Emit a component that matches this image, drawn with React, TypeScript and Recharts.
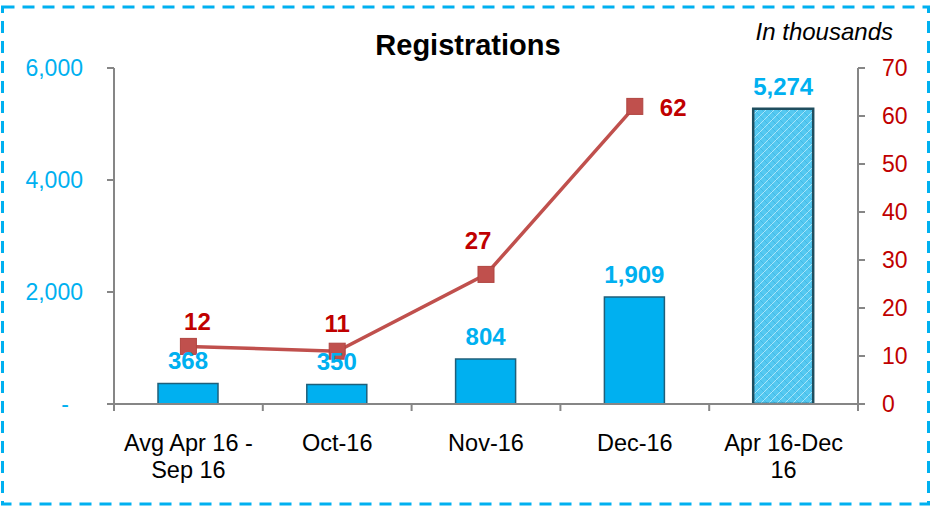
import React from 'react';
import { ComposedChart, Bar, Line, XAxis, YAxis, Cell, LabelList } from 'recharts';

const categories = ['Avg Apr 16 - Sep 16', 'Oct-16', 'Nov-16', 'Dec-16', 'Apr 16-Dec 16'];
const categoryLines = [['Avg Apr 16 -', 'Sep 16'], ['Oct-16'], ['Nov-16'], ['Dec-16'], ['Apr 16-Dec', '16']];
const registrations = [368, 350, 804, 1909, 5274];
const thousandsLine: (number | null)[] = [12, 11, 27, 62, null];
const leftTicks = [0, 2000, 4000, 6000];
const rightTicks = [0, 10, 20, 30, 40, 50, 60, 70];
const lineLabelOffsets = [[9, -25], [0, -28], [-8, -34], [25, 1]];

const FONT = 'Liberation Sans, Arial, sans-serif';
const BLUE = '#00B0F0';
const RED = '#C00000';
const LINE = '#C0504D';
const AXIS = '#868686';
const BAND = (858 - 114) / 5;

const data = categories.map((name, i) => ({ name, reg: registrations[i], line: thousandsLine[i], idx: i }));

const XTick = (props: any) => {
  const { x, y, payload, index } = props;
  const lines = categoryLines[index] || [payload.value];
  return (
    <g>
      <line x1={x - BAND / 2} x2={x - BAND / 2} y1={y} y2={y + 7} stroke={AXIS} strokeWidth={2} />
      {index === categories.length - 1 && (
        <line x1={x + BAND / 2} x2={x + BAND / 2} y1={y} y2={y + 7} stroke={AXIS} strokeWidth={2} />
      )}
      {lines.map((l: string, i: number) => (
        <text key={i} x={x} y={y + 47 + i * 27} textAnchor="middle" fill="#000" fontSize={23.5} fontFamily={FONT}>
          {l}
        </text>
      ))}
    </g>
  );
};

const LeftTick = (props: any) => {
  const { x, y, payload } = props;
  const v = payload.value;
  return (
    <text x={x} y={y} dx={v === 0 ? -14 : 0} textAnchor="end" dominantBaseline="central" fill={BLUE} fontSize={23} fontFamily={FONT}>
      {v === 0 ? '-' : v.toLocaleString('en-US')}
    </text>
  );
};

const RightTick = (props: any) => {
  const { x, y, payload } = props;
  return (
    <text x={x} y={y} textAnchor="start" dominantBaseline="central" fill={RED} fontSize={23} fontFamily={FONT}>
      {payload.value}
    </text>
  );
};

const SquareDot = (props: any) => {
  const { cx, cy, index } = props;
  if (cx == null || cy == null || isNaN(cy)) return <g key={`d${index}`} />;
  return <rect key={`d${index}`} x={cx - 8} y={cy - 8} width={16} height={16} fill={LINE} stroke="#B04440" strokeWidth={1} />;
};

const LineLabel = (props: any) => {
  const { x, y, value, index } = props;
  if (value == null || x == null || y == null) return null;
  const off = lineLabelOffsets[index] || [0, -25];
  return (
    <text x={x + off[0]} y={y + off[1]} textAnchor={index === 3 ? 'start' : 'middle'} dominantBaseline="central" fill={RED} fontSize={24} fontWeight="bold" fontFamily={FONT}>
      {value}
    </text>
  );
};

export default function App() {
  return (
    <div style={{ position: 'absolute', left: 0, top: 0, width: 931, height: 508, background: '#fff' }}>
      <svg width={931} height={508} style={{ position: 'absolute', left: 0, top: 0, pointerEvents: 'none', zIndex: 2 }}>
        <defs>
          <pattern id="hatch" width="8" height="8" patternUnits="userSpaceOnUse">
            <rect width="8" height="8" fill="#55C9F1" />
            <path d="M0,4 L4,0 M4,8 L8,4" stroke="#A9E6FA" strokeWidth="1" />
            <path d="M0,4 L4,8 M4,0 L8,4" stroke="#3FB6E4" strokeWidth="0.8" />
          </pattern>
        </defs>
        <rect x={2.5} y={7} width={926} height={497} fill="none" stroke={BLUE} strokeWidth={3} strokeDasharray="12 8" />
        <text x={468} y={55} textAnchor="middle" fontSize={29} fontWeight="bold" fontFamily={FONT} fill="#000">
          Registrations
        </text>
        <text x={893} y={40} textAnchor="end" fontSize={24} fontStyle="italic" fontFamily={FONT} fill="#000">
          In thousands
        </text>
      </svg>
      <ComposedChart width={931} height={508} data={data} margin={{ top: 68, right: 0, bottom: 0, left: 0 }}>
        <XAxis
          dataKey="name"
          height={104}
          interval={0}
          tickLine={false}
          tickSize={0}
          tickMargin={0}
          axisLine={{ stroke: AXIS, strokeWidth: 2 }}
          tick={<XTick />}
        />
        <YAxis
          yAxisId="l"
          domain={[0, 6000]}
          ticks={leftTicks}
          width={114}
          tickSize={7}
          tickMargin={24}
          axisLine={{ stroke: AXIS, strokeWidth: 2 }}
          tickLine={{ stroke: AXIS, strokeWidth: 2 }}
          tick={<LeftTick />}
          allowDataOverflow
        />
        <YAxis
          yAxisId="r"
          orientation="right"
          domain={[0, 70]}
          ticks={rightTicks}
          width={73}
          tickSize={7}
          tickMargin={17}
          axisLine={{ stroke: AXIS, strokeWidth: 2 }}
          tickLine={{ stroke: AXIS, strokeWidth: 2 }}
          tick={<RightTick />}
          allowDataOverflow
        />
        <Bar yAxisId="l" dataKey="reg" barSize={60} fill={BLUE} stroke="#1F5F7A" strokeWidth={1.5} isAnimationActive={false}>
          {data.map((d, i) => (
            <Cell
              key={i}
              fill={i === data.length - 1 ? 'url(#hatch)' : BLUE}
              stroke={i === data.length - 1 ? '#1F4E5F' : '#1F5F7A'}
              strokeWidth={i === data.length - 1 ? 2.5 : 1.5}
            />
          ))}
          <LabelList
            dataKey="reg"
            position="top"
            offset={14}
            formatter={(v: any) => Number(v).toLocaleString('en-US')}
            fill={BLUE}
            fontSize={24}
            fontWeight="bold"
            fontFamily={FONT}
          />
        </Bar>
        <Line
          yAxisId="r"
          dataKey="line"
          stroke={LINE}
          strokeWidth={3.5}
          dot={<SquareDot />}
          activeDot={false}
          isAnimationActive={false}
        >
          <LabelList dataKey="line" content={<LineLabel />} />
        </Line>
      </ComposedChart>
    </div>
  );
}
